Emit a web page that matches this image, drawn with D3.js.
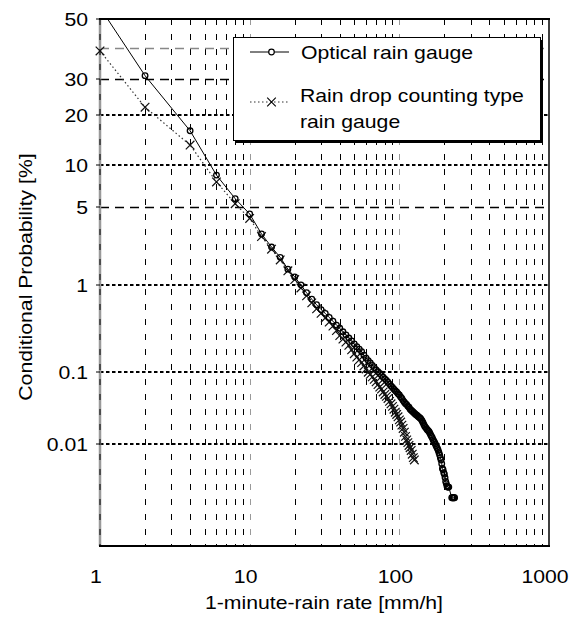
<!DOCTYPE html>
<html><head><meta charset="utf-8">
<script src="https://cdn.jsdelivr.net/npm/d3@7/dist/d3.min.js"></script>
<style>
body{margin:0;background:#fff}
text{font-family:"Liberation Sans",Arial,sans-serif;fill:#000}
</style>
</head><body>
<svg id="chart" width="572" height="619"></svg>
<script>
// ---------- DATA ----------
const rateOptical = [1,2,4,6,8,10,12,14,16,18,20,22,24,26,28,30,32,34,36,38,40,42,44,46,48,50,52,54,56,58,60,62,64,66,68,70,72,74,76,78,80,82,84,86,88,90,92,94,96,98,100,102,104,106,108,110,112,114,116,118,120,122,124,126,128,130,132,134,136,138,140,142,144,146,148,150,152,154,156,158,160,162,164,166,168,170,172,174,176,178,180,182,184,186,188,190,192,194,196,198,200,202,204,206,208,210,212,214,224,226,228,230,232,234];
const probOptical = [54,31,16.4,8.6,5.8,4.4,3.0,2.3,1.85,1.43,1.2,1.0,0.83,0.71,0.62,0.55,0.50,0.45,0.41,0.37,0.34,0.31,0.285,0.262,0.242,0.223,0.207,0.193,0.18,0.163,0.15,0.14,0.131,0.122,0.114,0.107,0.101,0.096,0.091,0.086,0.082,0.078,0.074,0.070,0.066,0.063,0.060,0.057,0.055,0.052,0.050,0.047,0.045,0.042,0.040,0.038,0.037,0.035,0.034,0.032,0.031,0.030,0.029,0.028,0.0272,0.0265,0.0258,0.025,0.0245,0.0238,0.023,0.0218,0.0205,0.0192,0.0182,0.0175,0.0168,0.0162,0.0158,0.0152,0.0145,0.0136,0.013,0.0124,0.0116,0.011,0.0106,0.0100,0.0094,0.0089,0.0085,0.0080,0.0074,0.0068,0.0062,0.0057,0.0050,0.0042,0.0040,0.0036,0.0034,0.0030,0.0026,0.0024,0.0022,0.0021,0.0021,0.0021,0.0014,0.0014,0.0014,0.0014,0.0014,0.0014];
const rateCounting = [1,2,4,6,8,10,12,14,16,18,20,22,24,26,28,30,32,34,36,38,40,42,44,46,48,50,52,54,56,58,60,62,64,66,68,70,72,74,76,78,80,82,84,86,88,90,92,94,96,98,100,102,104,106,108,110,112,114,116,118,120,122,124,126];
const probCounting = [39,22,13.5,7.7,5.3,4.05,2.85,2.2,1.75,1.38,1.13,0.93,0.77,0.65,0.56,0.50,0.445,0.40,0.36,0.32,0.28,0.255,0.235,0.215,0.19,0.17,0.155,0.143,0.132,0.12,0.11,0.10,0.094,0.087,0.081,0.075,0.069,0.064,0.060,0.055,0.051,0.048,0.045,0.041,0.038,0.035,0.032,0.029,0.027,0.025,0.0226,0.021,0.019,0.017,0.015,0.013,0.0115,0.0105,0.0095,0.0088,0.0080,0.0070,0.0062,0.0057];
const seriesNames = ["Optical rain gauge", "Rain drop counting type", "rain gauge"];
const xTickValues = [1,10,100,1000];
const xTickLabels = ["1","10","100","1000"];
const xMinorGrid = [2,3,4,5,6,7,8,9,20,30,40,50,60,70,80,90,200,300,400,500,600,700,800,900];
const yTickValues = [50,30,20,10,5,1,0.1,0.01];
const yTickLabels = ["50","30","20","10","5","1","0.1","0.01"];
const yLongDash = [40,30,5];
const yDotted = [20,10,1,0.1,0.01];
const xDomain = [1,1000];
const yDomain = [0.0002,50];
const xTitle = "1-minute-rain rate [mm/h]";
const yTitle = "Conditional Probability [%]";

// ---------- helpers ----------
function probit(p){ // inverse standard normal CDF (Acklam)
 const a=[-3.969683028665376e+01,2.209460984245205e+02,-2.759285104469687e+02,1.383577518672690e+02,-3.066479806614716e+01,2.506628277459239e+00];
 const b=[-5.447609879822406e+01,1.615858368580409e+02,-1.556989798598866e+02,6.680131188771972e+01,-1.328068155288572e+01];
 const c=[-7.784894002430293e-03,-3.223964580411365e-01,-2.400758277161838e+00,-2.549732539343734e+00,4.374664141464968e+00,2.938163982698783e+00];
 const d=[7.784695709041462e-03,3.224671290700398e-01,2.445134137142996e+00,3.754408661907416e+00];
 const pl=0.02425, ph=1-pl; let q,r;
 if(p<pl){q=Math.sqrt(-2*Math.log(p));return (((((c[0]*q+c[1])*q+c[2])*q+c[3])*q+c[4])*q+c[5])/((((d[0]*q+d[1])*q+d[2])*q+d[3])*q+1);}
 if(p<=ph){q=p-0.5;r=q*q;return (((((a[0]*r+a[1])*r+a[2])*r+a[3])*r+a[4])*r+a[5])*q/(((((b[0]*r+b[1])*r+b[2])*r+b[3])*r+b[4])*r+1);}
 q=Math.sqrt(-2*Math.log(1-p));return -(((((c[0]*q+c[1])*q+c[2])*q+c[3])*q+c[4])*q+c[5])/((((d[0]*q+d[1])*q+d[2])*q+d[3])*q+1);
}

// ---------- layout ----------
const L=100, R=549, T=19, B=546;
const svg = d3.select("#chart");
const x = d3.scaleLog().domain(xDomain).range([L,R]);
const zScale = d3.scaleLinear().domain([probit(yDomain[0]/100), probit(yDomain[1]/100)]).range([B,T]);
const y = v => zScale(probit(v/100));
const FS = 18.6, SX = 1.14;

function stext(g, px, py, str, anchor, size, sx, rot){
  return g.append("text")
    .attr("transform", `translate(${px},${py})` + (rot?` rotate(${rot})`:"") + ` scale(${sx},1)`)
    .attr("text-anchor", anchor)
    .style("font-size", size+"px")
    .text(str);
}

svg.append("defs").append("clipPath").attr("id","clip")
  .append("rect").attr("x",L-8).attr("y",T).attr("width",R-L+8).attr("height",B-T);

// ---------- grid ----------
const grid = svg.append("g");
grid.selectAll(".vg").data(xMinorGrid).enter().append("line")
  .attr("x1",d=>Math.round(x(d))+0.5).attr("x2",d=>Math.round(x(d))+0.5)
  .attr("y1",T).attr("y2",B)
  .attr("stroke","#000").attr("stroke-width",1).attr("stroke-dasharray","6,9");
grid.selectAll(".vd").data([10,100]).enter().append("line")
  .attr("x1",d=>Math.round(x(d))+0.5).attr("x2",d=>Math.round(x(d))+0.5)
  .attr("y1",T).attr("y2",B)
  .attr("stroke","#999").attr("stroke-width",1).attr("stroke-dasharray","6,9");
grid.selectAll(".hl").data(yLongDash).enter().append("line")
  .attr("x1",L).attr("x2",R)
  .attr("y1",d=>Math.round(y(d))+0.5).attr("y2",d=>Math.round(y(d))+0.5)
  .attr("stroke",d=>d===40?"#888":"#000").attr("stroke-width",1.3).attr("stroke-dasharray","9,6");
grid.selectAll(".hd").data(yDotted).enter().append("line")
  .attr("x1",L).attr("x2",R)
  .attr("y1",d=>Math.round(y(d))).attr("y2",d=>Math.round(y(d)))
  .attr("stroke","#000").attr("stroke-width",2).attr("stroke-dasharray","3.5,2.5");

// ---------- frame ----------
const frame = svg.append("g");
frame.append("line").attr("x1",L).attr("x2",L).attr("y1",T).attr("y2",B).attr("stroke","#999").attr("stroke-width",2.5);
frame.append("line").attr("x1",L).attr("x2",L).attr("y1",T).attr("y2",B).attr("stroke","#000").attr("stroke-width",1).attr("stroke-dasharray","6,9");
frame.append("line").attr("x1",L-1).attr("x2",R+1).attr("y1",T).attr("y2",T).attr("stroke","#000").attr("stroke-width",2);
frame.append("line").attr("x1",L-1).attr("x2",R+1).attr("y1",B).attr("y2",B).attr("stroke","#000").attr("stroke-width",2);
frame.append("line").attr("x1",R).attr("x2",R).attr("y1",T).attr("y2",B).attr("stroke","#000").attr("stroke-width",1.5);
frame.selectAll(".yt").data(yTickValues).enter().append("line")
  .attr("x1",L-4).attr("x2",L).attr("y1",d=>Math.round(y(d))).attr("y2",d=>Math.round(y(d)))
  .attr("stroke","#000").attr("stroke-width",1);

// ---------- series ----------
const optical = rateOptical.map((r,i)=>({r, p:probOptical[i]}));
const counting = rateCounting.map((r,i)=>({r, p:probCounting[i]}));
const line = d3.line().x(d=>x(d.r)).y(d=>y(d.p));
const plot = svg.append("g").attr("clip-path","url(#clip)");
plot.append("path").datum(counting).attr("d",line).attr("fill","none")
  .attr("stroke","#333").attr("stroke-width",1.2).attr("stroke-dasharray","1.5,2.5");
plot.append("path").datum(optical).attr("d",line).attr("fill","none")
  .attr("stroke","#000").attr("stroke-width",1);
const cs = 4.3;
plot.selectAll(".cx").data(counting).enter().append("path")
  .attr("d",d=>{const cx=x(d.r), cy=y(d.p);return `M${cx-cs},${cy-cs}L${cx+cs},${cy+cs}M${cx-cs},${cy+cs}L${cx+cs},${cy-cs}`;})
  .attr("stroke","#111").attr("stroke-width",1.2).attr("fill","none");
plot.selectAll(".ci").data(optical).enter().append("circle")
  .attr("cx",d=>x(d.r)).attr("cy",d=>y(d.p)).attr("r",2.8)
  .attr("fill","none").attr("stroke","#000").attr("stroke-width",1.3);

// ---------- labels ----------
const lab = svg.append("g");
yTickValues.forEach((v,i)=>{ stext(lab, 88, Math.round(y(v))+6.5, yTickLabels[i], "end", FS, SX); });
xTickValues.forEach((v,i)=>{ stext(lab, x(v)-4, 583, xTickLabels[i], "middle", FS, SX); });
stext(lab, 324, 609, xTitle, "middle", FS, SX);
stext(lab, 32, 277, yTitle, "middle", FS, SX, -90);

// ---------- legend ----------
const lg = svg.append("g");
lg.append("rect").attr("x",236).attr("y",40).attr("width",307).attr("height",103).attr("fill","#000");
lg.append("rect").attr("x",233.5).attr("y",37.5).attr("width",307).attr("height",103).attr("fill","#fff").attr("stroke","#000").attr("stroke-width",1);
lg.append("line").attr("x1",250).attr("x2",289).attr("y1",52).attr("y2",52).attr("stroke","#000").attr("stroke-width",1);
lg.append("circle").attr("cx",271.5).attr("cy",52).attr("r",2.8).attr("fill","#fff").attr("stroke","#000").attr("stroke-width",1.2);
lg.append("line").attr("x1",250).attr("x2",289).attr("y1",102).attr("y2",102).attr("stroke","#333").attr("stroke-width",1.2).attr("stroke-dasharray","1.5,2.5");
lg.append("path").attr("d",`M${271.5-cs},${102-cs}L${271.5+cs},${102+cs}M${271.5-cs},${102+cs}L${271.5+cs},${102-cs}`).attr("stroke","#000").attr("stroke-width",1.1).attr("fill","none");
stext(lg, 301, 59, seriesNames[0], "start", FS, SX);
stext(lg, 300, 102, seriesNames[1], "start", FS, SX);
stext(lg, 300, 128, seriesNames[2], "start", FS, SX);
</script>
</body></html>
